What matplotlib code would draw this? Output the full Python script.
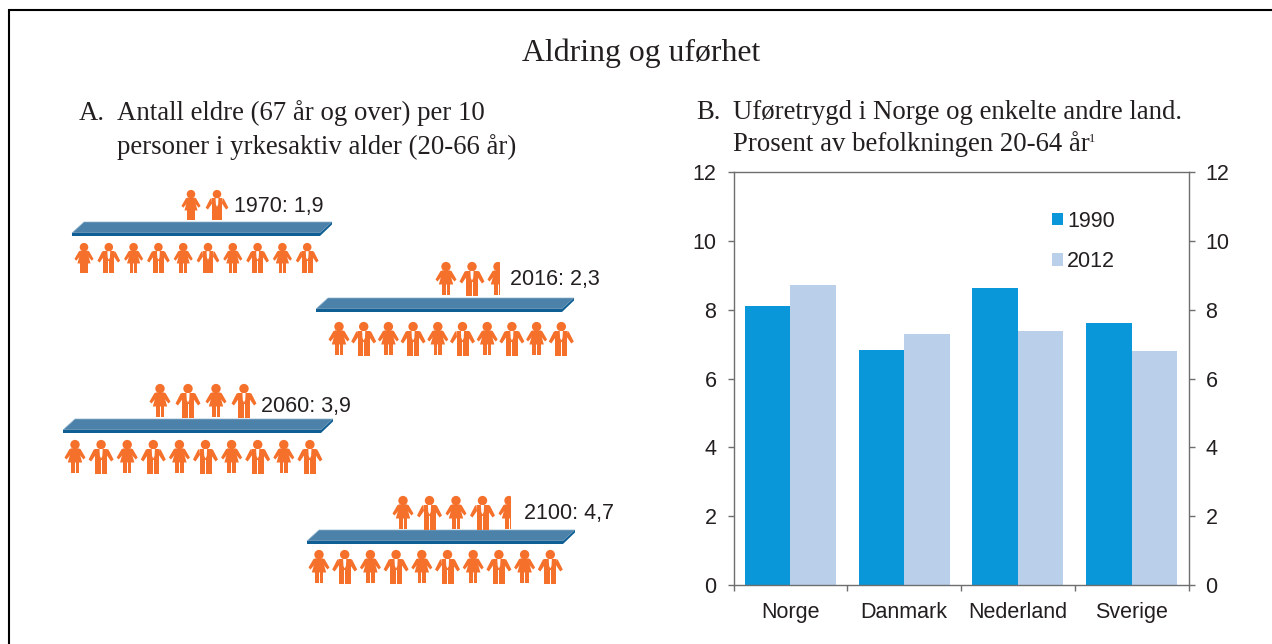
import matplotlib
matplotlib.use("Agg")
import matplotlib.pyplot as plt
from matplotlib.patches import Polygon, Circle, Rectangle
import numpy as np

# ---- data ----
years = [1970, 2016, 2060, 2100]
ratios = [1.9, 2.3, 3.9, 4.7]
ratio_labels = ["1970: 1,9", "2016: 2,3", "2060: 3,9", "2100: 4,7"]
workers = [10, 10, 10, 10]
countries = ["Norge", "Danmark", "Nederland", "Sverige"]
share_1990 = [8.1, 6.83, 8.63, 7.62]
share_2012 = [8.73, 7.3, 7.38, 6.8]
yticks = [0, 2, 4, 6, 8, 10, 12]

W, H = 1272, 644
SERIF = "Liberation Serif"
SANS = "Liberation Sans"
ORANGE = "#F4702B"
TXT = "#231F20"
GREY = "#6D6E70"
FS = 15.5

fig = plt.figure(figsize=(W / 100, H / 100), dpi=100, facecolor="white")
ov = fig.add_axes([0, 0, 1, 1])
ov.set_xlim(0, W)
ov.set_ylim(H, 0)
ov.axis("off")

# frame: top and left edges only
ov.plot([9, 9, W], [H, 10, 10], color="#000000", lw=1.5, solid_joinstyle="miter")

# titles
ov.text(641, 53, "Aldring og uførhet", family=SERIF, fontsize=22.9, color=TXT, ha="center", va="center")
st = dict(family=SERIF, fontsize=19.25, color=TXT, va="center", ha="left")
ov.text(79, 113, "A.", **st)
ov.text(117, 113, "Antall eldre (67 år og over) per 10", **st)
ov.text(117, 147, "personer i yrkesaktiv alder (20-66 år)", **st)
ov.text(696, 112, "B.", **st)
ov.text(733, 112, "Uføretrygd i Norge og enkelte andre land.", **st)
ov.text(733, 144, "Prosent av befolkningen 20-64 år", **st)
ov.text(1089, 139, "1", family=SERIF, fontsize=9, color=TXT, va="center", ha="left")


def person(cx, top, h, female, clip_right=None):
    """Pictogram of a person, height h px, centred on cx, with its head at top."""
    s = h / 33.0
    def P(pts):
        return [(cx + x * s, top + y * s) for x, y in pts]
    items = [Circle((cx, top + 4.6 * s), 4.7 * s, fc=ORANGE, ec="none")]
    if female:
        shapes = [
            [(-4, 8.5), (4, 8.5), (4.8, 14), (7.2, 22.5), (-7.2, 22.5), (-4.8, 14)],
            [(-3.5, 8.5), (-5.5, 9), (-10.5, 17.5), (-8.5, 19.5), (-3.8, 14)],
            [(3.5, 8.5), (5.5, 9), (10.5, 17.5), (8.5, 19.5), (3.8, 14)],
            [(-4.2, 21), (-0.5, 21), (-0.5, 32.5), (-4.2, 32.5)],
            [(0.5, 21), (4.2, 21), (4.2, 32.5), (0.5, 32.5)],
        ]
    else:
        shapes = [
            [(-6, 9), (6, 9), (6, 20), (-6, 20)],
            [(-6, 9), (-7.5, 9.7), (-12.5, 19.5), (-10, 21.5), (-5.5, 15)],
            [(6, 9), (7.5, 9.7), (12.5, 19.5), (10, 21.5), (5.5, 15)],
            [(-6, 19), (-0.5, 19), (-0.5, 33.5), (-6, 33.5)],
            [(0.5, 19), (6, 19), (6, 33.5), (0.5, 33.5)],
        ]
    for sh in shapes:
        items.append(Polygon(P(sh), closed=True, fc=ORANGE, ec="none"))
    if not female:
        items.append(Polygon(P([(-1.6, 9), (1.6, 9), (1.2, 16), (0, 18.5), (-1.2, 16)]), closed=True, fc="white", ec="none"))
    for it in items:
        ov.add_patch(it)
        if clip_right is not None:
            it.set_clip_path(Rectangle((cx - 20, top - 5), clip_right - (cx - 20), h + 10, transform=ov.transData))


def platform(x0, ytop, span):
    ov.add_patch(Polygon([(x0 + 12, ytop), (x0 + span, ytop), (x0 + span - 12, ytop + 11), (x0, ytop + 11)],
                         closed=True, fc="#4C81A9", ec="#8FB3CC", lw=0.5))
    ov.add_patch(Polygon([(x0, ytop + 11), (x0 + span - 12, ytop + 11), (x0 + span, ytop), (x0 + span, ytop + 2.5),
                          (x0 + span - 12, ytop + 14), (x0, ytop + 14)],
                         closed=True, fc="#0F5E94", ec="none"))


layout = [
    dict(px=72, py=222, span=260, wx=84, wy=243, wh=30, wstep=24.8, ex=191, ey=190, eh=30, step=26, lx=234, ly=206),
    dict(px=316, py=298, span=258, wx=339, wy=322, wh=33, wstep=24.7, ex=446, ey=262, eh=33, step=26, lx=510, ly=279),
    dict(px=63, py=419, span=270, wx=75, wy=440, wh=33, wstep=26.1, ex=160, ey=384, eh=33, step=28, lx=261, ly=406),
    dict(px=307, py=530, span=268, wx=319, wy=550, wh=33, wstep=25.7, ex=403, ey=496, eh=33, step=26.5, lx=524, ly=514),
]

for ratio, lab, n, L in zip(ratios, ratio_labels, workers, layout):
    platform(L["px"], L["py"], L["span"])
    for i in range(n):
        person(L["wx"] + i * L["wstep"], L["wy"], L["wh"], i % 2 == 0)
    count = int(np.ceil(ratio))
    for i in range(count):
        cx = L["ex"] + i * L["step"]
        frac = ratio - i
        clip = cx + 1.5 if frac < 0.85 else None
        person(cx, L["ey"], L["eh"], i % 2 == 0, clip_right=clip)
    ov.text(L["lx"], L["ly"], lab, family=SANS, fontsize=FS, color=TXT, va="center", ha="left")

# ---- Panel B ----
AL, AR, AT, AB = 733.5, 1188.5, 172, 585
ax = fig.add_axes([AL / W, 1 - AB / H, (AR - AL) / W, (AB - AT) / H])
x = np.arange(len(countries))
bw = 0.4
ax.bar(x - bw / 2, share_1990, bw, color="#0A97D9", label="1990")
ax.bar(x + bw / 2, share_2012, bw, color="#BAD0EA", label="2012")
ax.set_xlim(-0.5, len(countries) - 0.5)
ax.set_ylim(0, 12)
ax.set_yticks(yticks)
ax.tick_params(axis="y", which="major", direction="out", length=4.3, width=1, color=GREY,
               left=True, right=True, labelleft=True, labelright=True, labelsize=FS,
               labelcolor=TXT, pad=8)
ax.set_xticks(x)
ax.set_xticklabels(countries, family=SANS, fontsize=FS, color=TXT)
ax.set_xticks(np.arange(len(countries) + 1) - 0.5, minor=True)
ax.tick_params(axis="x", which="major", length=0, pad=12.5)
ax.tick_params(axis="x", which="minor", direction="out", length=4.3, width=1, color=GREY)
for lbl in ax.yaxis.get_ticklabels(which="major"):
    lbl.set_family(SANS)
for tick in ax.yaxis.get_major_ticks():
    tick.label2.set_family(SANS)
for sp in ax.spines.values():
    sp.set_color(GREY)
    sp.set_linewidth(1)
leg = ax.legend(loc="upper left", bbox_to_anchor=((1052 - AL) / (AR - AL), (AB - 211) / (AB - AT)), frameon=False,
                prop={"family": SANS, "size": FS}, handlelength=0.5, handleheight=0.5, handletextpad=0.2,
                labelspacing=0.89, borderpad=0, borderaxespad=0, labelcolor=TXT)

fig.savefig("out.png", dpi=100, facecolor="white")
